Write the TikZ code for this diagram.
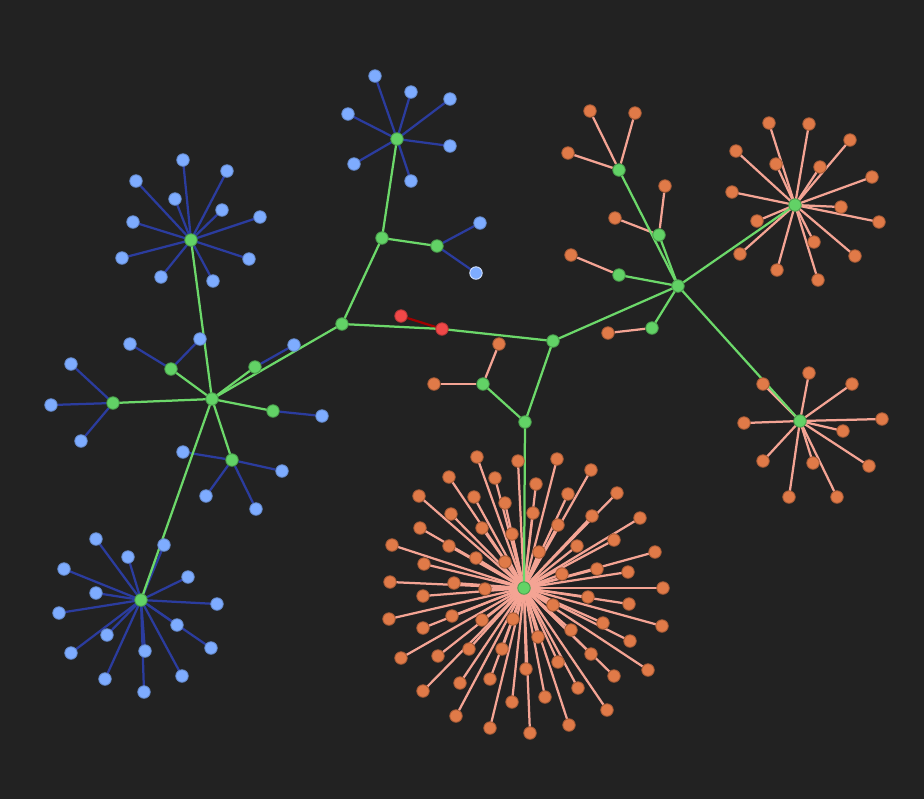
\documentclass[tikz,border=0pt]{standalone}
\usepackage{tikz}

\definecolor{canvas}{HTML}{222222}
\definecolor{gfill}{HTML}{62D266}
\definecolor{gline}{HTML}{6CD86A}
\definecolor{bfill}{HTML}{7EACFF}
\definecolor{bline}{HTML}{2B3C9E}
\definecolor{ofill}{HTML}{E07A48}
\definecolor{oline}{HTML}{F4A494}
\definecolor{rfill}{HTML}{F04848}
\definecolor{rline}{HTML}{A00000}

\pgfdeclarelayer{back}
\pgfdeclarelayer{wires}
\pgfsetlayers{back,wires,main}

\begin{document}
\begin{tikzpicture}[x=0.02cm,y=-0.02cm]
    \tikzstyle{dot}=[circle,inner sep=0pt,minimum size=0.25cm,line width=0.5pt];
    \tikzstyle{hub}=[dot,draw=gfill!75!black,fill=gfill];
    \tikzstyle{bleaf}=[dot,draw=bfill!80!black,fill=bfill];
    \tikzstyle{oleaf}=[dot,draw=ofill!75!black,fill=ofill];
    \tikzstyle{rnode}=[dot,draw=rfill!75!black,fill=rfill];
    \tikzstyle{gedge}=[draw=gline,line width=0.045cm];
    \tikzstyle{bedge}=[draw=bline,line width=0.045cm];
    \tikzstyle{oedge}=[draw=oline,line width=0.045cm];
    \tikzstyle{redge}=[draw=rline,line width=0.045cm];

    \begin{pgfonlayer}{back}
    \fill[canvas] (0,0) rectangle (924,799);
    \end{pgfonlayer}
    \useasboundingbox (0,0) rectangle (924,799);

    % backbone
    \node (hub) [hub] at (212,399) {}; \node (hl) [hub] at (171,369) {};
    \node (hw) [hub] at (113,403) {}; \node (he) [hub] at (255,367) {};
    \node (hr) [hub] at (273,411) {}; \node (hs) [hub] at (232,460) {};
    \node (j) [hub] at (342,324) {}; \node (k) [hub] at (382,238) {};
    \node (m) [hub] at (437,246) {}; \node (q) [hub] at (553,341) {};
    \node (p) [hub] at (483,384) {}; \node (n) [hub] at (525,422) {};
    \node (t) [hub] at (678,286) {}; \node (t1) [hub] at (619,170) {};
    \node (t2) [hub] at (659,235) {}; \node (t3) [hub] at (619,275) {};
    \node (t4) [hub] at (652,328) {};
    \node (r1) [rnode] at (401,316) {}; \node (r2) [rnode] at (442,329) {};

    % star centres
    \node (ul) [hub] at (191,240) {}; \node (tp) [hub] at (397,139) {};
    \node (bl) [hub] at (141,600) {}; \node (rt) [hub] at (795,205) {};
    \node (rb) [hub] at (800,421) {}; \node (big) [hub] at (524,588) {};

    % small blue leaves
    \node (hl1) [bleaf] at (130,344) {}; \node (hl2) [bleaf] at (200,339) {};
    \node (hw1) [bleaf] at (71,364) {}; \node (hw2) [bleaf] at (51,405) {};
    \node (hw3) [bleaf] at (81,441) {}; \node (he1) [bleaf] at (294,345) {};
    \node (hr1) [bleaf] at (322,416) {}; \node (hs1) [bleaf] at (183,452) {};
    \node (hs2) [bleaf] at (282,471) {}; \node (hs3) [bleaf] at (206,496) {};
    \node (hs4) [bleaf] at (256,509) {}; \node (m1) [bleaf] at (480,223) {};
    \node (m2) [bleaf,draw=white!70!bfill] at (476,273) {};

    % small orange leaves
    \node (p1) [oleaf] at (499,344) {}; \node (p2) [oleaf] at (434,384) {};
    \node (t11) [oleaf] at (590,111) {}; \node (t12) [oleaf] at (635,113) {};
    \node (t13) [oleaf] at (568,153) {}; \node (t21) [oleaf] at (665,186) {};
    \node (t22) [oleaf] at (615,218) {}; \node (t31) [oleaf] at (571,255) {};
    \node (t41) [oleaf] at (608,333) {};

    % stars
    \foreach \n/\x/\y in {1/183/160,2/227/171,3/136/181,4/175/199,5/222/210,
      6/260/217,7/133/222,8/122/258,9/249/259,10/161/277,11/213/281}
      {\node (ul\n) [bleaf] at (\x,\y) {};}
    \foreach \n/\x/\y in {1/375/76,2/411/92,3/450/99,4/348/114,5/450/146,
      6/354/164,7/411/181}
      {\node (tp\n) [bleaf] at (\x,\y) {};}
    \foreach \n/\x/\y in {1/96/539,2/164/545,3/128/557,4/64/569,5/188/577,
      6/96/593,7/217/604,8/59/613,9/177/625,10/107/635,11/211/648,12/71/653,
      13/145/651,14/105/679,15/182/676,16/144/692}
      {\node (bl\n) [bleaf] at (\x,\y) {};}
    \foreach \n/\x/\y in {1/769/123,2/809/124,3/850/140,4/736/151,5/776/164,
      6/820/167,7/872/177,8/732/192,9/841/207,10/879/222,11/757/221,
      12/740/254,13/814/242,14/855/256,15/777/270,16/818/280}
      {\node (rt\n) [oleaf] at (\x,\y) {};}
    \foreach \n/\x/\y in {1/809/373,2/763/384,3/852/384,4/744/423,5/882/419,
      6/843/431,7/763/461,8/813/463,9/869/466,10/789/497,11/837/497}
      {\node (rb\n) [oleaf] at (\x,\y) {};}
    \foreach \n/\x/\y in {1/477/457,2/518/461,3/449/477,4/495/478,5/419/496,
      6/474/497,7/505/503,8/451/514,9/420/528,10/482/528,11/512/534,
      12/392/545,13/449/546,14/476/558,15/505/562,16/424/564,17/390/582,
      18/454/583,19/485/589,20/423/596,21/533/513,22/557/459,23/591/470,
      24/536/484,25/568/494,26/617/493,27/592/516,28/640/518,29/558/525,
      30/614/540,31/577/546,32/539/552,33/655/552,34/597/569,35/628/572,
      36/562/574,37/663/588,38/389/619,39/452/616,40/482/620,41/513/619,
      42/423/628,43/401/658,44/438/656,45/469/649,46/502/649,47/526/669,
      48/460/683,49/490/679,50/423/691,51/512/702,52/456/716,53/490/728,
      54/588/597,55/629/604,56/553/605,57/662/626,58/603/623,59/571/630,
      60/538/637,61/630/641,62/591/654,63/558/662,64/648/670,65/614/676,
      66/578/688,67/545/697,68/607/710,69/569/725,70/530/733}
      {\node (big\n) [oleaf] at (\x,\y) {};}

    \begin{pgfonlayer}{wires}
    \foreach \n in {1,...,11} \path (ul.center) edge[bedge] (ul\n.center);
    \foreach \n in {1,...,7} \path (tp.center) edge[bedge] (tp\n.center);
    \foreach \n in {1,...,16} \path (bl.center) edge[bedge] (bl\n.center);
    \foreach \n in {1,...,16} \path (rt.center) edge[oedge] (rt\n.center);
    \foreach \n in {1,...,11} \path (rb.center) edge[oedge] (rb\n.center);
    \foreach \n in {1,...,70} \path (big.center) edge[oedge] (big\n.center);

    \path (hl) edge[bedge] (hl1) edge[bedge] (hl2)
    (hw) edge[bedge] (hw1) edge[bedge] (hw2) edge[bedge] (hw3)
    (he) edge[bedge] (he1) (hr) edge[bedge] (hr1)
    (hs) edge[bedge] (hs1) edge[bedge] (hs2) edge[bedge] (hs3)
    edge[bedge] (hs4) (m) edge[bedge] (m1) edge[bedge] (m2)

    (p) edge[oedge] (p1) edge[oedge] (p2)
    (t1) edge[oedge] (t11) edge[oedge] (t12) edge[oedge] (t13)
    (t2) edge[oedge] (t21) edge[oedge] (t22) (t3) edge[oedge] (t31)
    (t4) edge[oedge] (t41)

    (r1) edge[redge] (r2);

    \path (hub.center) edge[gedge] (ul.center) edge[gedge] (hl.center)
    edge[gedge] (hw.center) edge[gedge] (he.center) edge[gedge]
    (hr.center) edge[gedge] (hs.center) edge[gedge] (bl.center)
    edge[gedge] (j.center)
    (j.center) edge[gedge] (k.center) edge[gedge] (r2.center)
    (k.center) edge[gedge] (tp.center) edge[gedge] (m.center)
    (r2.center) edge[gedge] (q.center)
    (q.center) edge[gedge] (n.center) edge[gedge] (t.center)
    (n.center) edge[gedge] (p.center) edge[gedge] (big.center)
    (t.center) edge[gedge] (t1.center) edge[gedge] (t2.center)
    edge[gedge] (t3.center) edge[gedge] (t4.center) edge[gedge]
    (rt.center) edge[gedge] (rb.center);
    \end{pgfonlayer}
\end{tikzpicture}
\end{document}
